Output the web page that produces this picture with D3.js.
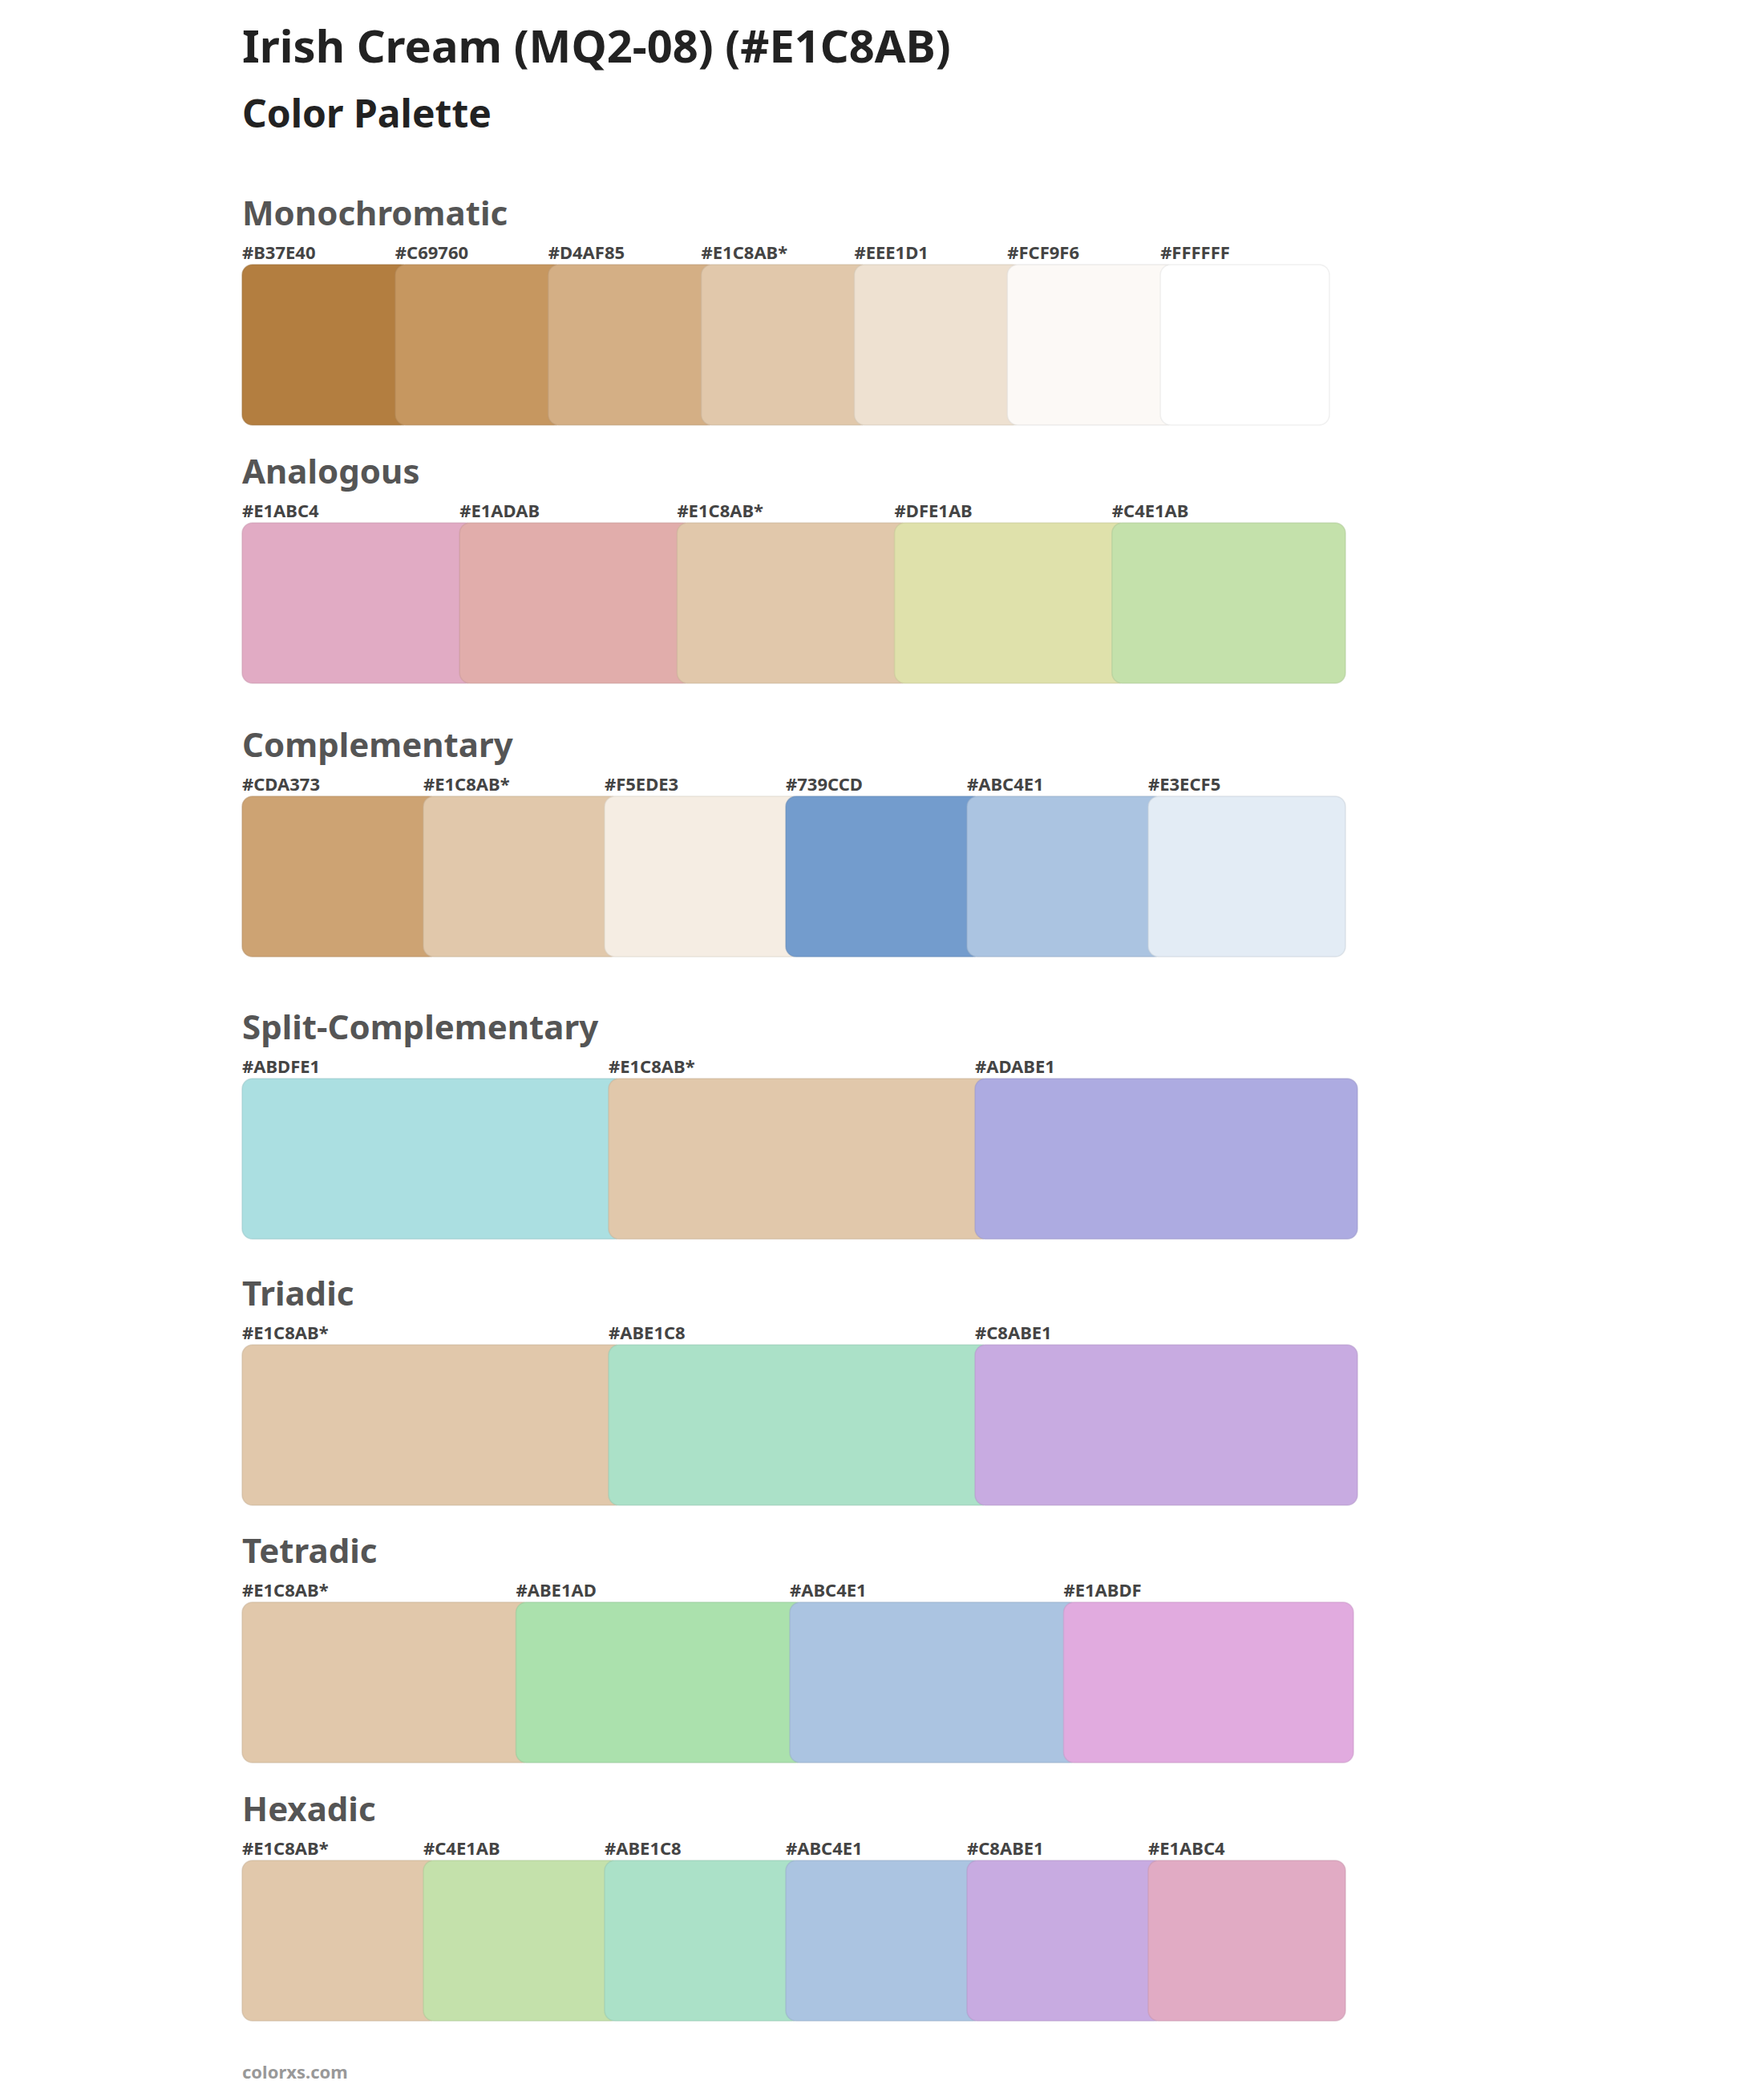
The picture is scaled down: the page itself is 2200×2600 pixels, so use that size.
<!DOCTYPE html>
<html><head><meta charset="utf-8">
<script src="https://cdn.jsdelivr.net/npm/d3@7"></script>
<style>body{margin:0;background:#fff}svg{display:block}text{font-family:"Noto Sans",sans-serif;font-weight:700}</style>
</head><body><svg id="c" width="2200" height="2600"></svg>
<script>
const title = "Irish Cream (MQ2-08) (#E1C8AB)";
const subtitle = "Color Palette";
const footer = "colorxs.com";
const sectionNames = ["Monochromatic","Analogous","Complementary","Split-Complementary","Triadic","Tetradic","Hexadic"];
const monochromatic = ["#B37E40","#C69760","#D4AF85","#E1C8AB*","#EEE1D1","#FCF9F6","#FFFFFF"];
const analogous = ["#E1ABC4","#E1ADAB","#E1C8AB*","#DFE1AB","#C4E1AB"];
const complementary = ["#CDA373","#E1C8AB*","#F5EDE3","#739CCD","#ABC4E1","#E3ECF5"];
const splitComplementary = ["#ABDFE1","#E1C8AB*","#ADABE1"];
const triadic = ["#E1C8AB*","#ABE1C8","#C8ABE1"];
const tetradic = ["#E1C8AB*","#ABE1AD","#ABC4E1","#E1ABDF"];
const hexadic = ["#E1C8AB*","#C4E1AB","#ABE1C8","#ABC4E1","#C8ABE1","#E1ABC4"];
const sections = [monochromatic,analogous,complementary,splitComplementary,triadic,tetradic,hexadic];
const sectionRight = [1658,1678,1678,1693,1693,1688,1678];
const swatchTop = [330,652,993,1345,1677,1998,2320];

const svg = d3.select("#c");
const left = 302;
svg.append("text").attr("x",left).attr("y",78).attr("font-size",56).attr("fill","#222").text(title);
svg.append("text").attr("x",left).attr("y",159).attr("font-size",48).attr("fill","#222").text(subtitle);
svg.append("text").attr("x",left).attr("y",2592).attr("font-size",22).attr("fill","#999").text(footer);

sections.forEach((cols,si)=>{
  const n = cols.length;
  const over = 20;
  const step = (sectionRight[si]-left-over)/n;
  const x = d3.scaleLinear().domain([0,n]).range([left,left+n*step]);
  const top = swatchTop[si];
  const g = svg.append("g");
  g.append("text").attr("x",left).attr("y",top-49).attr("font-size",42).attr("fill","#555").text(sectionNames[si]);
  cols.forEach((c,i)=>{
    const hex = c.replace("*","");
    g.append("rect").attr("x",x(i)).attr("y",top).attr("width",step+over).attr("height",200)
      .attr("rx",13).attr("fill",hex).attr("stroke",d3.color(hex).darker(0.35)).attr("stroke-opacity",0.5).attr("stroke-width",1.5);
    g.append("text").attr("x",x(i)).attr("y",top-7).attr("font-size",22).attr("fill","#444").text(c);
  });
});
</script></body></html>
